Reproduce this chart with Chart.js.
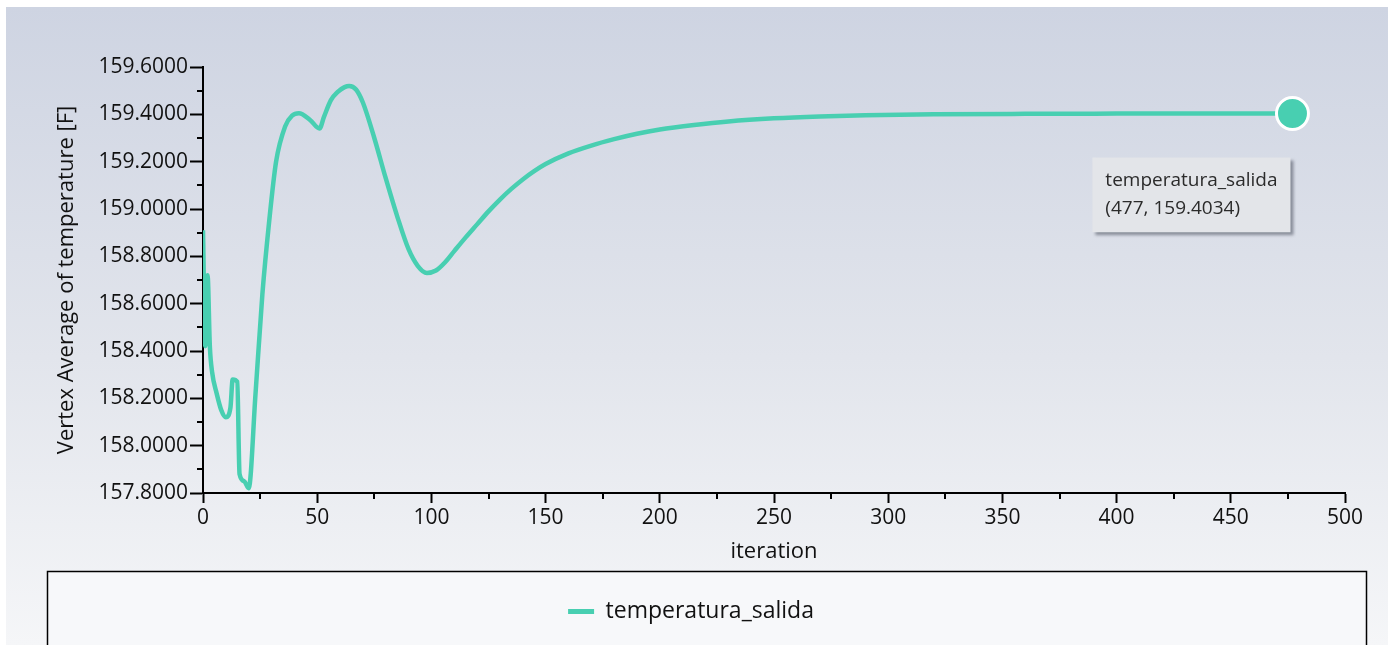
<!DOCTYPE html>
<html>
<head>
<meta charset="utf-8">
<script src="https://cdn.jsdelivr.net/npm/chart.js@4"></script>
<style>
  html, body { margin: 0; padding: 0; background: #ffffff; }
  #wrap { position: relative; width: 1392px; height: 645px; overflow: hidden; }
  #panel { position: absolute; left: 6px; top: 7px; width: 1382px; height: 638px;
           background: linear-gradient(#ced4e2, #e2e5ec 55%, #f5f6f8); }
  #chart { position: absolute; left: 0; top: 0; }
</style>
</head>
<body>
<div id="wrap">
  <div id="panel"></div>
  <canvas id="chart" width="1392" height="645"></canvas>
</div>
<script>
const seriesName = 'temperatura_salida';
const iterations = [0, 1, 2, 3, 4, 6, 8, 10, 12, 13, 15, 16, 18, 20, 23, 26, 29, 32, 36, 39, 42, 47, 51, 53, 56, 59, 62, 64, 67, 70, 75, 80, 85, 90, 94, 98, 102, 106, 110, 115, 120, 125, 130, 135, 140, 145, 150, 160, 170, 180, 190, 200, 215, 230, 250, 270, 290, 320, 360, 400, 440, 477];
const temperature = [158.91, 158.42, 158.72, 158.42, 158.31, 158.22, 158.15, 158.12, 158.16, 158.28, 158.27, 157.88, 157.85, 157.82, 158.22, 158.64, 158.95, 159.20, 159.35, 159.395, 159.405, 159.375, 159.34, 159.39, 159.46, 159.495, 159.515, 159.52, 159.505, 159.45, 159.30, 159.13, 158.97, 158.83, 158.76, 158.73, 158.74, 158.775, 158.822, 158.88, 158.935, 158.99, 159.04, 159.085, 159.125, 159.16, 159.19, 159.235, 159.268, 159.295, 159.318, 159.336, 159.355, 159.370, 159.383, 159.391, 159.396, 159.400, 159.402, 159.403, 159.4032, 159.4034];
const xTicks = [0, 50, 100, 150, 200, 250, 300, 350, 400, 450, 500];
const yTicks = [157.8, 158.0, 158.2, 158.4, 158.6, 158.8, 159.0, 159.2, 159.4, 159.6];

const lineColor = '#48cfb1';
const FONT = '"Open Sans", "Noto Sans", sans-serif';
const lastIndex = iterations.length - 1;

// little ticks between the labelled ones
const minorTicks = {
  id: 'minorTicks',
  afterDraw(chart) {
    const ctx = chart.ctx;
    const {x, y} = chart.scales;
    ctx.save();
    ctx.strokeStyle = '#000';
    ctx.lineWidth = 2;
    x.ticks.forEach(t => {
      if (t.label !== '') return;
      const px = Math.round(x.getPixelForValue(t.value));
      ctx.beginPath();
      ctx.moveTo(px, x.top);
      ctx.lineTo(px, x.top + 6);
      ctx.stroke();
    });
    y.ticks.forEach(t => {
      if (t.label !== '') return;
      const py = Math.round(y.getPixelForValue(t.value));
      ctx.beginPath();
      ctx.moveTo(y.right, py);
      ctx.lineTo(y.right - 6, py);
      ctx.stroke();
    });
    ctx.restore();
  }
};

// framed box behind the legend
const legendFrame = {
  id: 'legendFrame',
  beforeDraw(chart) {
    const ctx = chart.ctx;
    ctx.save();
    ctx.fillStyle = '#f7f8fa';
    ctx.fillRect(47, 571, 1320, 90);
    ctx.strokeStyle = '#000';
    ctx.lineWidth = 1.5;
    ctx.strokeRect(47.5, 571.5, 1319, 90);
    ctx.restore();
  }
};

// drop shadow for the tooltip box
const tooltipShadow = {
  id: 'tooltipShadow',
  beforeTooltipDraw(chart, args) {
    const tt = args.tooltip;
    if (!tt.opacity) return;
    const ctx = chart.ctx;
    ctx.save();
    ctx.fillStyle = 'rgba(70,75,90,0.55)';
    ctx.filter = 'blur(1.5px)';
    ctx.fillRect(tt.x + 3, tt.y + 3, tt.width, tt.height);
    ctx.restore();
  }
};

Chart.Tooltip.positioners.belowLeft = function(items) {
  if (!items.length) return false;
  const el = items[0].element;
  return {x: el.x - 2, y: el.y + 44};
};

const ctxTemp = document.getElementById('chart').getContext('2d');
const chart = new Chart(ctxTemp, {
  type: 'line',
  data: {
    datasets: [{
      label: seriesName,
      data: iterations.map((it, i) => ({x: it, y: temperature[i]})),
      borderColor: lineColor,
      backgroundColor: lineColor,
      borderWidth: 4.5,
      cubicInterpolationMode: 'monotone',
      pointRadius: ctx => ctx.dataIndex === lastIndex ? 16 : 0,
      pointBorderColor: '#ffffff',
      pointBorderWidth: 3,
      pointBackgroundColor: lineColor,
      pointHoverRadius: ctx => ctx.dataIndex === lastIndex ? 16 : 0,
      fill: false
    }]
  },
  options: {
    responsive: false,
    animation: false,
    events: [],
    layout: {
      padding: {left: 37, right: 47, top: 67, bottom: 12}
    },
    plugins: {
      legend: {
        position: 'bottom',
        labels: {
          font: {family: FONT, size: 23},
          color: '#111',
          boxWidth: 26,
          boxHeight: 5,
          padding: 18,
          generateLabels(chart) {
            return Chart.defaults.plugins.legend.labels.generateLabels(chart).map(l => {
              l.lineWidth = 0;
              return l;
            });
          }
        }
      },
      tooltip: {
        enabled: true,
        position: 'belowLeft',
        xAlign: 'right',
        yAlign: 'top',
        caretSize: 0,
        caretPadding: 0,
        cornerRadius: 0,
        displayColors: false,
        backgroundColor: '#e3e5e9',
        titleColor: '#2b2b2b',
        bodyColor: '#2b2b2b',
        titleFont: {family: FONT, size: 19, weight: 'normal'},
        bodyFont: {family: FONT, size: 19},
        titleMarginBottom: 5,
        padding: {left: 13, right: 13, top: 12, bottom: 12},
        callbacks: {
          title: items => items[0].dataset.label,
          label: item => '(' + item.raw.x + ', ' + item.raw.y.toFixed(4) + ')'
        }
      }
    },
    scales: {
      x: {
        type: 'linear',
        min: 0,
        max: 500,
        afterFit: s => { s.height = 89; },
        ticks: {
          stepSize: 25,
          autoSkip: false,
          maxRotation: 0,
          padding: 2,
          color: '#111',
          font: {family: FONT, size: 21},
          callback: v => xTicks.includes(v) ? String(v) : ''
        },
        grid: {
          drawOnChartArea: false,
          tickLength: 10,
          tickWidth: 2,
          tickColor: c => (c.tick && c.tick.label === '') ? 'rgba(0,0,0,0)' : '#000'
        },
        border: {display: true, color: '#000', width: 2},
        title: {
          display: true,
          text: 'iteration',
          color: '#111',
          font: {family: FONT, size: 22},
          padding: {top: 0, bottom: 17}
        }
      },
      y: {
        min: 157.8,
        max: 159.6,
        afterFit: s => { s.width = 166; },
        ticks: {
          stepSize: 0.1,
          autoSkip: false,
          padding: 2,
          color: '#111',
          font: {family: FONT, size: 21},
          callback: v => yTicks.some(t => Math.abs(t - v) < 1e-6) ? v.toFixed(4) : ''
        },
        grid: {
          drawOnChartArea: false,
          tickLength: 13,
          tickWidth: 2,
          tickColor: c => (c.tick && c.tick.label === '') ? 'rgba(0,0,0,0)' : '#000'
        },
        border: {display: true, color: '#000', width: 2},
        title: {
          display: true,
          text: 'Vertex Average of temperature [F]',
          color: '#111',
          font: {family: FONT, size: 22},
          padding: {top: 17, bottom: 0}
        }
      }
    }
  },
  plugins: [legendFrame, minorTicks, tooltipShadow]
});

const lastPoint = chart.getDatasetMeta(0).data[lastIndex];
chart.tooltip.setActiveElements([{datasetIndex: 0, index: lastIndex}], {x: lastPoint.x, y: lastPoint.y});
chart.update();
</script>
</body>
</html>
